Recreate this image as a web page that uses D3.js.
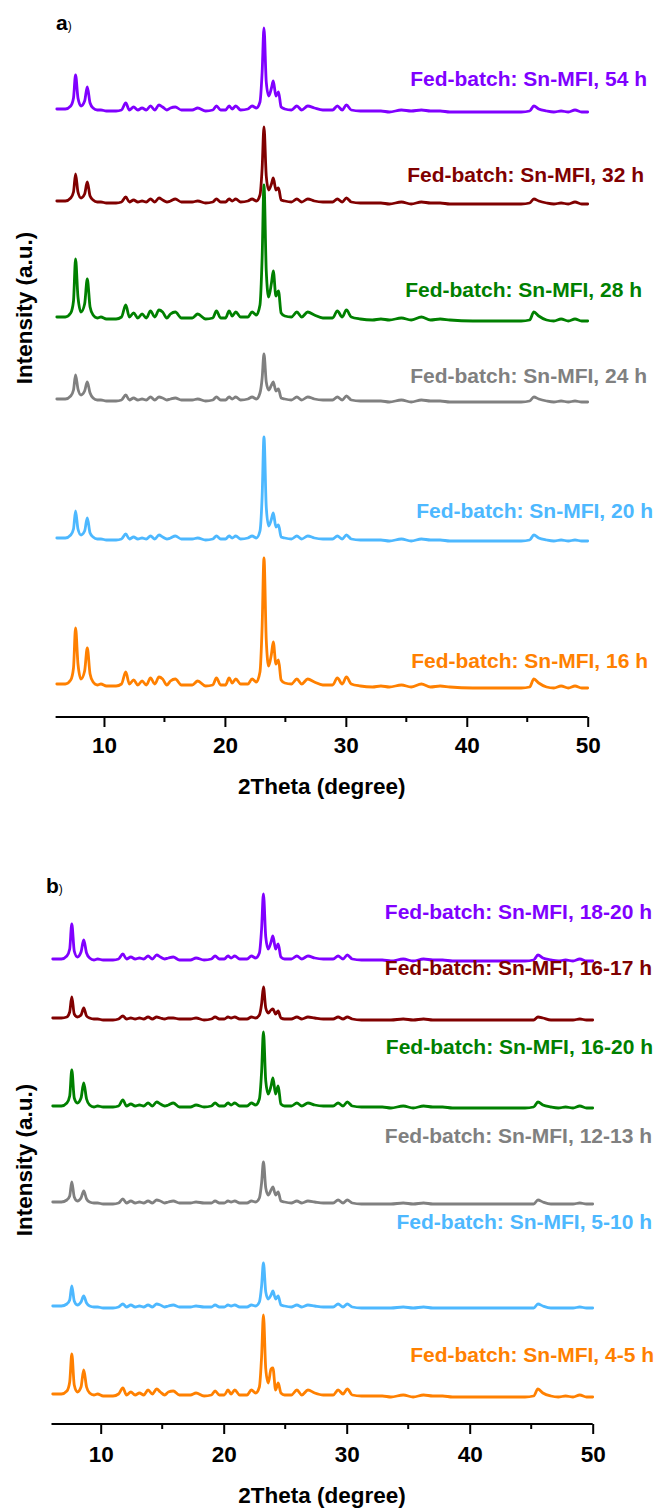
<!DOCTYPE html>
<html>
<head>
<meta charset="utf-8">
<script src="https://cdn.jsdelivr.net/npm/d3@7/dist/d3.min.js"></script>
<style>
  html, body { margin: 0; padding: 0; background: #fff; }
  svg { display: block; }
  text { font-family: "Liberation Sans", Arial, Helvetica, sans-serif; font-weight: bold; }
</style>
</head>
<body>
<svg id="fig" width="661" height="1508"></svg>
<script>
// ---- data -------------------------------------------------------------
// shared 2-theta sampling (degree)
const twoTheta = [
  6.1, 6.8, 7.25, 7.48, 7.65, 7.85, 8.1, 8.4, 8.62, 8.85,
  9.1, 9.45, 9.75, 10.2, 11.0, 11.45, 11.8, 12.1, 12.45, 12.8,
  13.15, 13.5, 13.85, 14.2, 14.55, 14.85, 15.2, 15.5, 15.9, 16.4,
  17.3, 17.75, 18.4, 19.0, 19.3, 19.65, 20.05, 20.35, 20.6, 20.9,
  21.3, 21.9, 22.25, 22.6, 22.9, 23.08, 23.23, 23.42, 23.62, 23.85,
  24.0, 24.22, 24.43, 24.65, 24.95, 25.5, 25.95, 26.35, 26.85, 27.4,
  28.1, 28.9, 29.3, 29.7, 30.05, 30.45, 31.2, 32.2, 32.9, 33.6,
  34.6, 35.4, 36.25, 37.0, 37.8, 38.6, 40.5, 42.5, 44.5, 45.2,
  45.55, 45.95, 46.6, 47.2, 47.8, 48.4, 48.95, 49.5, 50.0
];

const xTicks = [10, 20, 30, 40, 50];
const xMinorTicks = [15, 25, 35, 45];

// panel a: fed-batch Sn-MFI, sampled at different crystallisation times
const labelsA = [
  "Fed-batch: Sn-MFI, 54 h", "Fed-batch: Sn-MFI, 32 h", "Fed-batch: Sn-MFI, 28 h",
  "Fed-batch: Sn-MFI, 24 h", "Fed-batch: Sn-MFI, 20 h", "Fed-batch: Sn-MFI, 16 h"
];
// vertical stacking offsets (a.u.)
const offsetsA = [605, 513, 396, 315, 176, 29];

const a54h = [
  3,3,6,14,37,14,6,11,25,9,  4,2,2,1,1,2,9,2,5,2,  4,2,6,2,7,5,2,4,5,2,
  2,4,1,2,6,2,2,6,3,6,  2,3,6,4,10,40,84,30,16,24,  31,16,20,5,3,2,6,2,6,4,
  2,2,6,2,7,2,1,1,1,0,  2,1,2,1,1,0,0,0,0,1,  6,3,1,0,1,0,2,0,0
];
const a32h = [
  3,3,6,12,30,12,6,10,22,8,  4,2,2,1,1,2,7,2,4,2,  3,2,5,2,6,4,2,3,5,2,
  2,3,1,2,5,2,2,5,3,5,  2,3,5,3,9,36,77,28,14,20,  26,14,16,4,3,2,5,2,5,3,
  2,2,5,2,6,2,1,1,1,0,  2,0,2,1,1,0,0,0,0,1,  5,3,1,0,1,0,2,0,0
];
const a28h = [
  4,4,8,20,62,24,9,17,42,14,  6,3,4,2,2,4,16,4,8,3,  7,3,10,4,11,9,3,7,9,3,
  3,7,2,3,10,3,3,10,5,9,  4,4,9,6,16,64,136,50,24,38,  50,25,30,8,5,4,9,4,9,6,
  3,3,10,4,11,4,2,1,2,1,  3,1,4,1,2,1,0,0,0,1,  9,5,1,0,2,0,2,0,0
];
const a24h = [
  3,3,6,12,27,13,7,11,20,9,  4,2,2,1,1,2,7,2,4,2,  3,2,5,2,5,4,2,3,4,2,
  2,3,1,2,5,2,2,5,3,5,  2,3,5,3,9,24,48,20,12,17,  20,11,13,4,3,2,5,2,5,3,
  2,2,5,2,6,2,1,1,1,0,  2,0,2,1,1,0,0,0,0,1,  5,3,1,0,1,0,1,0,0
];
const a20h = [
  3,3,6,12,30,12,6,10,23,8,  4,2,2,1,1,2,7,2,4,2,  3,2,5,2,6,4,2,3,5,2,
  2,3,1,2,5,2,2,5,3,5,  2,3,5,3,10,45,104,34,15,22,  28,14,16,4,3,2,5,2,5,3,
  2,2,5,2,6,2,1,1,1,0,  2,0,2,1,1,0,0,0,0,1,  6,3,1,0,1,0,1,0,0
];
const a16h = [
  4,4,8,20,60,24,9,17,40,14,  6,3,4,2,2,4,16,4,8,3,  7,3,10,4,11,9,3,7,9,3,
  3,7,2,3,10,3,3,10,5,9,  4,4,9,6,16,62,130,48,22,34,  46,24,28,8,5,4,9,4,9,6,
  3,3,10,4,11,4,2,1,2,1,  3,1,4,1,2,1,0,0,0,1,  9,5,1,0,2,0,2,0,0
];

// panel b: fed-batch Sn-MFI, feeding windows
const labelsB = [
  "Fed-batch: Sn-MFI, 18-20 h", "Fed-batch: Sn-MFI, 16-17 h", "Fed-batch: Sn-MFI, 16-20 h",
  "Fed-batch: Sn-MFI, 12-13 h", "Fed-batch: Sn-MFI, 5-10 h", "Fed-batch: Sn-MFI, 4-5 h"
];
const offsetsB = [463, 404, 316, 220, 116, 27];

const b18to20h = [
  2,2,5,12,37,10,4,9,21,8,  3,1,2,1,1,2,7,2,4,2,  3,2,5,2,6,4,2,3,4,1,
  1,3,1,2,5,2,2,5,3,5,  2,2,5,3,8,32,67,24,12,19,  25,12,17,4,2,2,5,2,5,3,
  2,2,5,2,6,2,1,1,1,0,  2,0,2,1,1,0,0,0,0,1,  6,3,1,0,1,0,2,0,0
];
const b16to17h = [
  2,2,3,8,23,6,3,5,12,4,  2,1,1,0,0,1,4,1,2,1,  2,1,3,1,3,2,1,2,2,1,
  1,2,0,1,3,1,1,3,2,3,  1,1,3,2,5,16,33,12,7,10,  11,6,9,2,1,1,3,1,3,2,
  1,1,3,1,3,1,0,0,0,0,  1,0,1,0,0,0,0,0,0,0,  3,2,0,0,0,0,1,0,0
];
const b16to20h = [
  2,2,5,12,38,10,5,10,25,9,  3,1,2,1,1,2,8,2,4,2,  3,2,5,2,6,4,2,3,5,1,
  1,3,1,2,5,2,2,5,3,5,  2,2,5,3,9,36,76,27,14,22,  30,14,22,4,2,2,5,2,5,3,
  2,2,5,2,6,2,1,1,1,0,  2,0,2,1,1,0,0,0,0,1,  6,3,1,0,1,0,2,0,0
];
const b12to13h = [
  2,2,4,8,22,7,3,6,13,5,  2,1,1,0,0,1,5,1,3,1,  2,1,3,1,4,3,1,2,3,1,
  1,2,1,1,3,1,1,3,2,3,  1,1,3,2,6,21,42,16,9,14,  17,9,12,3,2,1,3,1,3,2,
  1,1,4,1,4,1,0,0,0,0,  1,0,1,0,0,0,0,0,0,0,  4,2,0,0,0,0,1,0,0
];
const b5to10h = [
  2,2,4,8,22,7,3,6,12,5,  2,1,1,0,0,1,4,1,3,1,  2,1,3,1,4,3,1,2,3,1,
  1,2,1,1,3,1,1,3,2,3,  1,1,3,2,6,22,45,16,9,13,  17,9,12,3,2,1,3,1,3,2,
  1,1,4,1,4,1,0,0,0,0,  1,0,1,0,0,0,0,0,0,0,  4,2,0,0,0,0,1,0,0
];
const b4to5h = [
  3,3,6,15,43,12,5,10,27,10,  4,2,3,1,1,3,9,2,5,2,  4,2,7,3,8,5,2,5,6,2,
  2,4,1,2,6,2,2,7,3,7,  2,2,7,4,10,40,82,28,14,28,  29,7,14,4,2,2,7,2,7,4,
  2,2,7,3,8,2,1,1,1,0,  2,0,2,1,1,0,0,0,0,1,  8,4,1,0,1,0,2,0,0
];

// ---- styling / layout ---------------------------------------------------
const colors = ["#8000ff", "#800000", "#008000", "#808080", "#4db8ff", "#ff8000"];

const panels = [
  {
    tag: "a", series: [a54h, a32h, a28h, a24h, a20h, a16h], labels: labelsA, offsets: offsetsA,
    left: 55.6, right: 587.7, axisY: 717, height: 717,
    labelPos: [[647, 86], [644, 182], [642, 297], [647, 383], [653, 518], [648, 668]],
    tagPos: [56, 30], yTitleY: 308, tickLabelY: 745, titleY: 794
  },
  {
    tag: "b", series: [b18to20h, b16to17h, b16to20h, b12to13h, b5to10h, b4to5h], labels: labelsB, offsets: offsetsB,
    left: 51.5, right: 592.7, axisY: 1424, height: 700,
    labelPos: [[652, 919], [652, 975], [653, 1054], [652, 1143], [652, 1229], [654, 1362]],
    tagPos: [46, 893], yTitleY: 1160, tickLabelY: 1454, titleY: 1503
  }
];

const svg = d3.select("#fig");

panels.forEach(p => {
  const g = svg.append("g");
  const x = d3.scaleLinear().domain([6, 50]).range([p.left, p.right]);
  const y = d3.scaleLinear().domain([0, p.height]).range([p.axisY, p.axisY - p.height]);

  // traces
  p.series.forEach((vals, i) => {
    const pts = twoTheta.map((t, k) => [t, vals[k] + p.offsets[i]]);
    const line = d3.line()
      .x(d => x(d[0]))
      .y(d => y(d[1]))
      .curve(d3.curveMonotoneX);
    g.append("path")
      .attr("d", line(pts))
      .attr("fill", "none")
      .attr("stroke", colors[i])
      .attr("stroke-width", 2.8)
      .attr("stroke-linejoin", "round")
      .attr("stroke-linecap", "round");

    g.append("text")
      .attr("x", p.labelPos[i][0])
      .attr("y", p.labelPos[i][1])
      .attr("text-anchor", "end")
      .attr("fill", colors[i])
      .attr("font-size", 21)
      .text(p.labels[i]);
  });

  // bottom axis: major ticks with labels, unlabeled minor ticks
  const axis = g.append("g").attr("transform", `translate(0,${p.axisY})`)
    .call(d3.axisBottom(x).tickValues(xTicks).tickSize(10).tickSizeOuter(0).tickFormat(d3.format("d")));
  axis.select(".domain").attr("stroke", "#000").attr("stroke-width", 2);
  axis.selectAll(".tick line").attr("stroke", "#000").attr("stroke-width", 2);
  axis.selectAll(".tick text")
    .attr("font-size", 22.5).attr("font-family", null).attr("fill", "#000")
    .attr("y", p.tickLabelY - p.axisY).attr("dy", "0.35em");
  axis.select(".domain").attr("d", `M${x(6)},0H${x(50)}`);

  g.append("g").attr("transform", `translate(0,${p.axisY})`)
    .selectAll("line").data(xMinorTicks).join("line")
    .attr("x1", d => x(d)).attr("x2", d => x(d))
    .attr("y1", 0).attr("y2", 5)
    .attr("stroke", "#000").attr("stroke-width", 2);

  // axis titles
  g.append("text")
    .attr("x", (p.left + p.right) / 2).attr("y", p.titleY)
    .attr("text-anchor", "middle").attr("font-size", 22.5)
    .text("2Theta (degree)");

  g.append("text")
    .attr("transform", `translate(32,${p.yTitleY}) rotate(-90)`)
    .attr("text-anchor", "middle").attr("font-size", 22.5)
    .text("Intensity (a.u.)");

  // panel tag
  const tag = g.append("text").attr("x", p.tagPos[0]).attr("y", p.tagPos[1]).attr("font-size", 21);
  tag.append("tspan").text(p.tag);
  tag.append("tspan").attr("font-size", 12).attr("font-weight", "normal").text(")");
});
</script>
</body>
</html>
